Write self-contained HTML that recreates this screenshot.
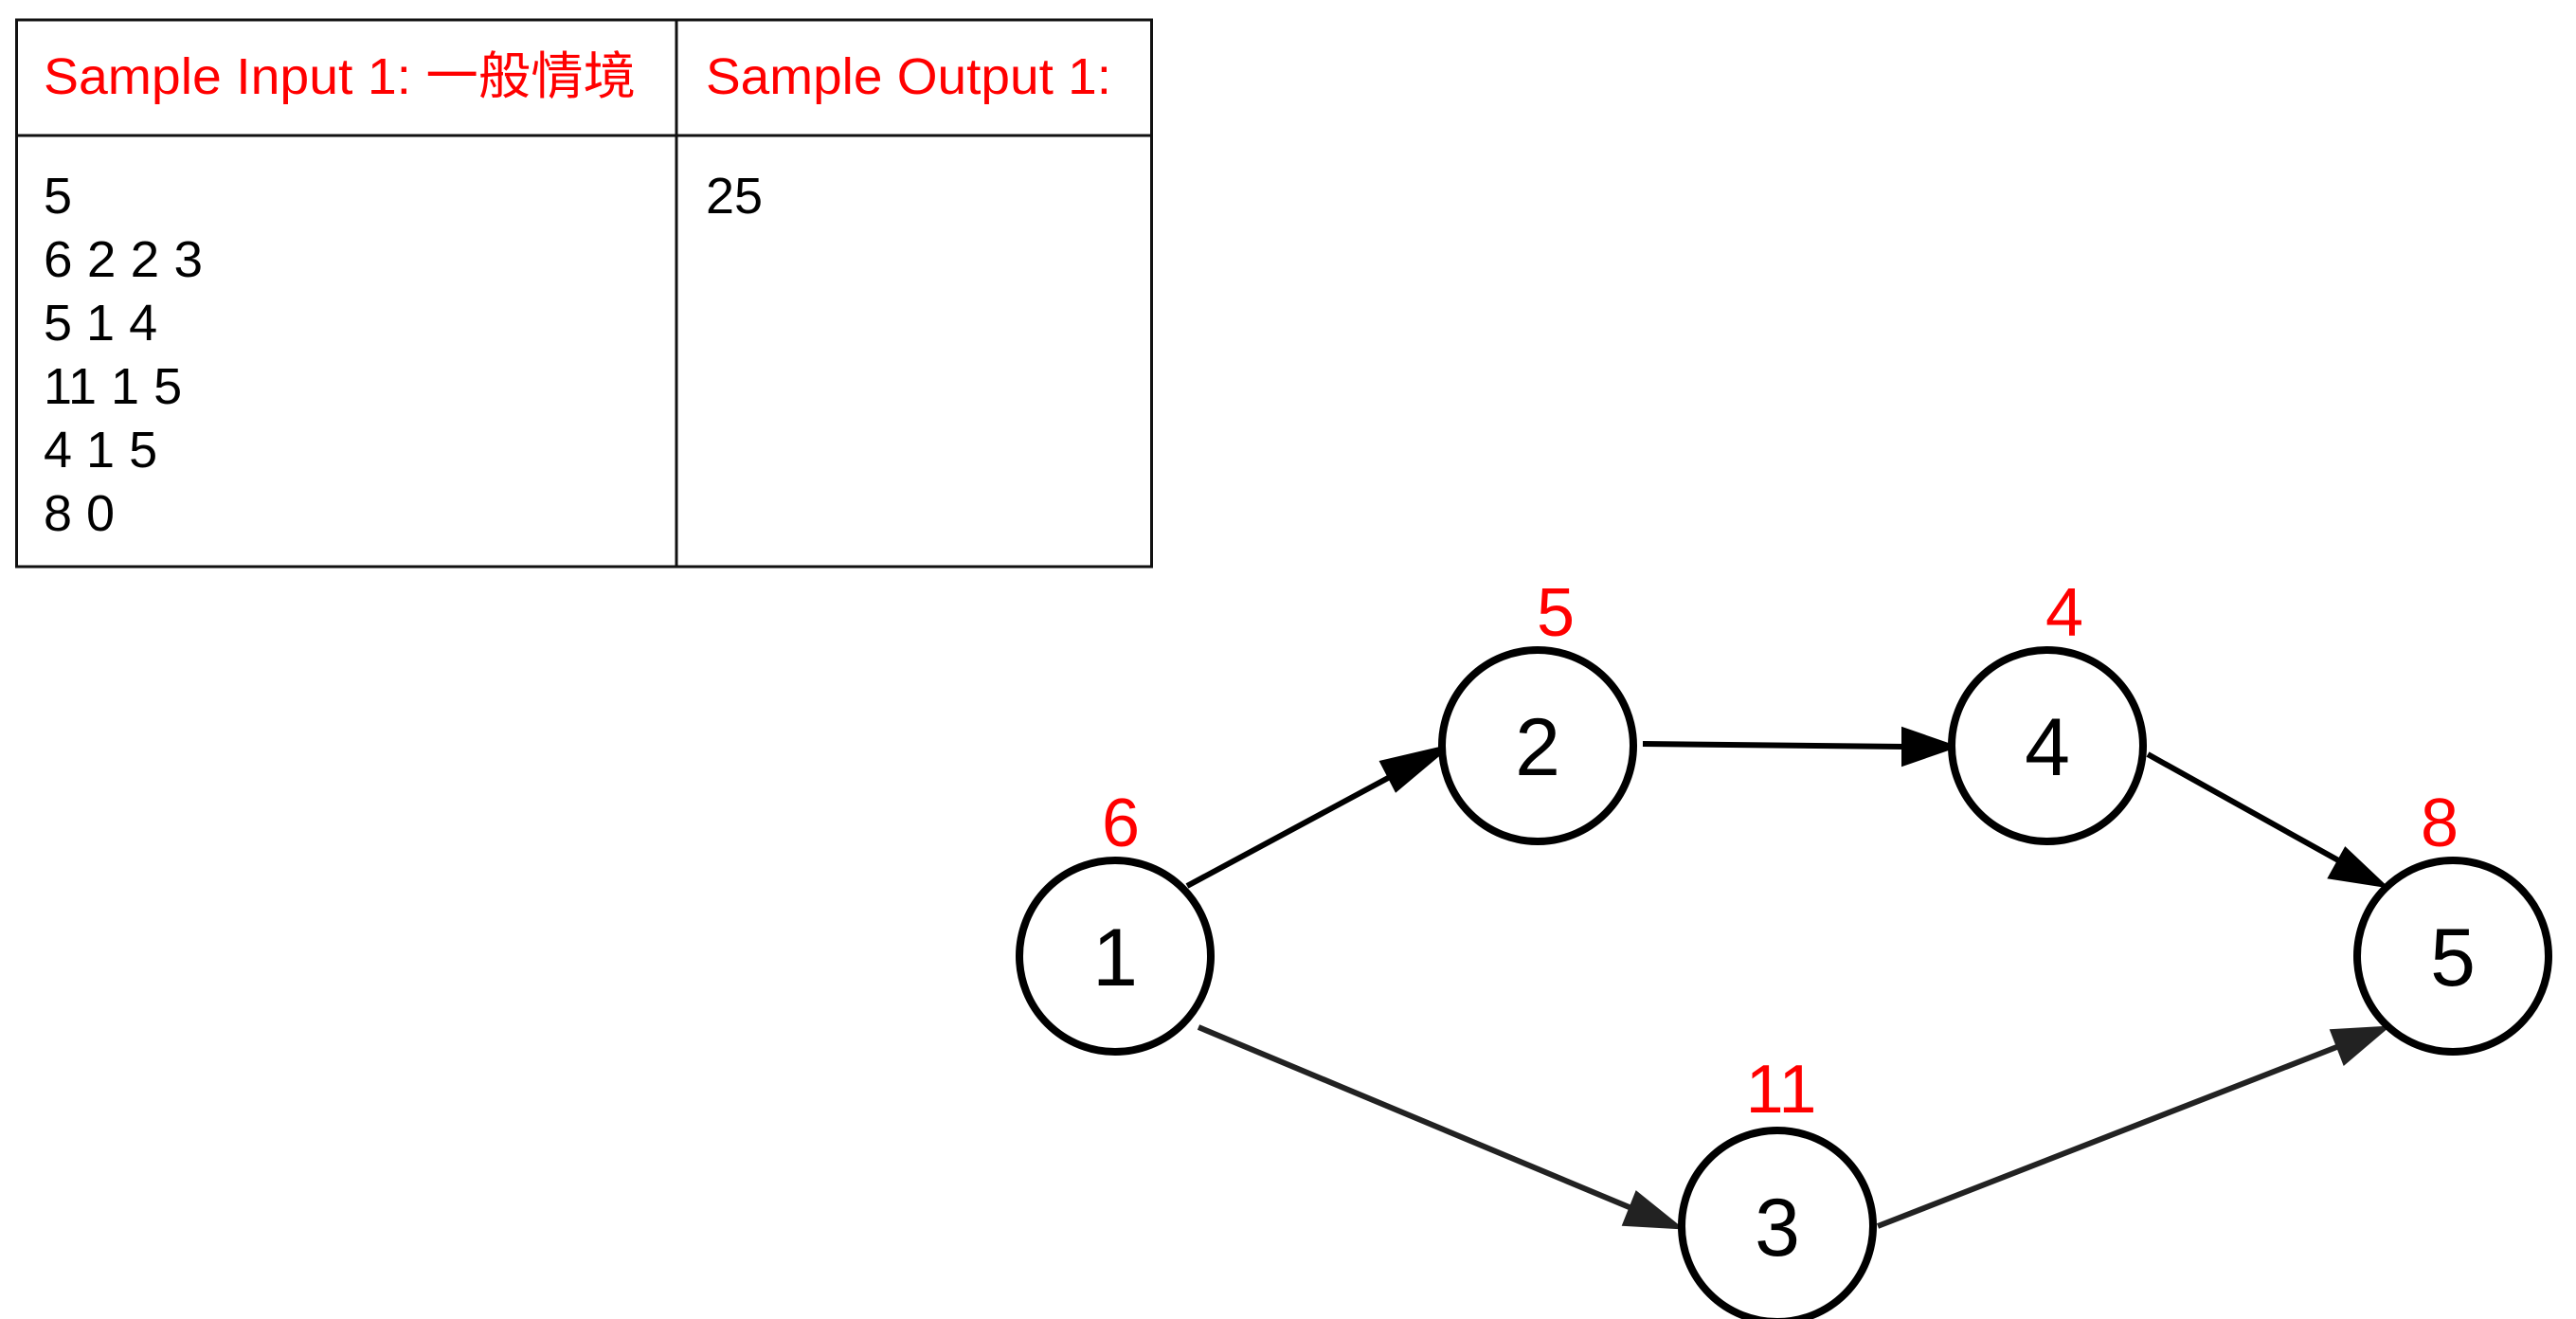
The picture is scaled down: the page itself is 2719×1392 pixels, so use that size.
<!DOCTYPE html>
<html><head><meta charset="utf-8"><style>
body{margin:0;width:2719px;height:1392px;background:#fff;overflow:hidden}
svg{position:absolute;left:0;top:0}
</style></head><body>
<svg width="2719" height="1392" xmlns="http://www.w3.org/2000/svg" font-family="Liberation Sans, Noto Sans CJK TC, sans-serif">
<g stroke="#111" stroke-width="3" fill="none">
<rect x="17.5" y="21" width="1198" height="577"/>
<line x1="714" y1="21" x2="714" y2="598"/>
<line x1="17.5" y1="143" x2="1215.5" y2="143"/>
</g>
<g font-size="54" fill="#ff0000">
<text x="46" y="99" textLength="625" lengthAdjust="spacingAndGlyphs">Sample Input 1: 一般情境</text>
<text x="745" y="99" textLength="428" lengthAdjust="spacingAndGlyphs">Sample Output 1:</text>
</g>
<g font-size="54" fill="#000">
<text x="46" y="225">5</text>
<text x="46" y="292" textLength="168" lengthAdjust="spacingAndGlyphs">6 2 2 3</text>
<text x="46" y="359">5 1 4</text>
<text x="46" y="426">11 1 5</text>
<text x="46" y="493">4 1 5</text>
<text x="46" y="560">8 0</text>
<text x="745" y="225">25</text>
</g>
<g stroke-width="6">
<g stroke="#000" fill="#000">
<line x1="1253" y1="935" x2="1480" y2="813"/>
<polygon points="1524,790 1474,832 1460,805"/>
<line x1="1734" y1="785" x2="2010" y2="788"/>
<polygon points="2059,788 2010,805 2010,771"/>
<line x1="2267" y1="796" x2="2470" y2="909"/>
<polygon points="2513,933 2461,925 2476,898"/>
</g>
<g stroke="#222" fill="#222">
<line x1="1265" y1="1084" x2="1722" y2="1275"/>
<polygon points="1769,1294 1716,1291 1728,1261"/>
<line x1="1982" y1="1294" x2="2469" y2="1104"/>
<polygon points="2515,1086 2475,1120 2463,1089"/>
</g>
</g>
<g stroke="#000" stroke-width="8" fill="#fff">
<circle cx="1177" cy="1009" r="101"/>
<circle cx="1623" cy="787" r="101"/>
<circle cx="2161" cy="787" r="101"/>
<circle cx="2589" cy="1009" r="101"/>
<circle cx="1876" cy="1294" r="101"/>
</g>
<g font-size="86" fill="#000" text-anchor="middle">
<text x="1177" y="1040">1</text>
<text x="1623" y="818">2</text>
<text x="2161" y="818">4</text>
<text x="2589" y="1040">5</text>
<text x="1876" y="1325">3</text>
</g>
<g font-size="72" fill="#ff0000" text-anchor="middle">
<text x="1183" y="893">6</text>
<text x="1642" y="671">5</text>
<text x="2179" y="671">4</text>
<text x="2575" y="893">8</text>
<text x="1880" y="1174">11</text>
</g>
</svg>
</body></html>
